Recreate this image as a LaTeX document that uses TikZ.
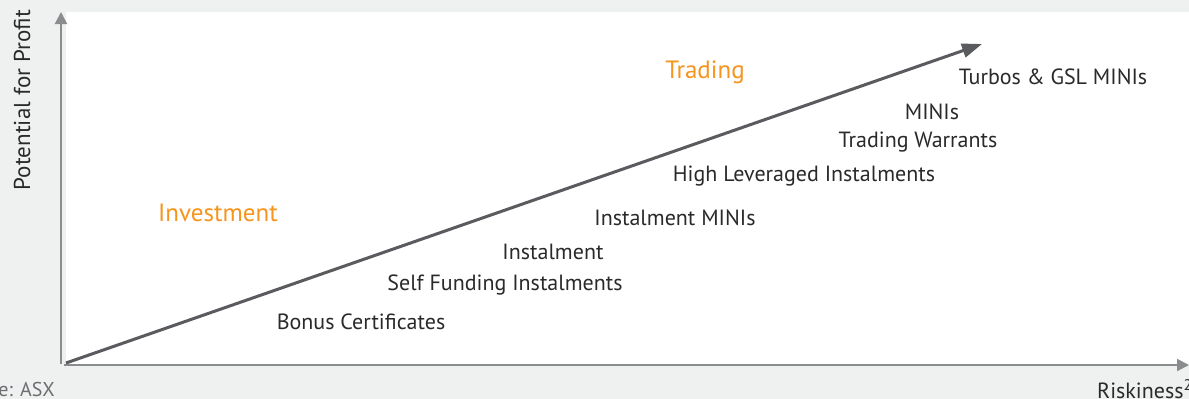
\documentclass[tikz,border=0pt]{standalone}
\usepackage{fontspec}
\setmainfont{PT Sans}
\usetikzlibrary{arrows.meta}
\definecolor{bggrey}{HTML}{EFF0F0}
\definecolor{axisgrey}{HTML}{8A8C8E}
\definecolor{linegrey}{HTML}{5A5B5E}
\definecolor{txt}{HTML}{2A2A2A}
\definecolor{srcgrey}{HTML}{6D6E71}
\definecolor{orng}{HTML}{F7941D}
\begin{document}
\begin{tikzpicture}[x=1pt,y=-1pt,
  lbl/.style={font=\fontsize{22}{25}\selectfont, text=txt, inner sep=0pt},
  cat/.style={font=\fontsize{25}{28}\selectfont, text=orng, inner sep=0pt},
  axis/.style={draw=axisgrey, line width=2pt, -{Triangle[length=12pt,width=12pt]}},
  trend/.style={draw=linegrey, line width=3pt, -{Triangle[length=20pt,width=14pt]}}]
\useasboundingbox (0,0) rectangle (1189,399);
\fill[bggrey] (0,0) rectangle (1189,399);
\fill[white] (66,12) rectangle (1189,364);
\coordinate (o) at (61,364);
\coordinate (ytip) at (61,12);
\coordinate (xo) at (64,365);
\coordinate (xtip) at (1189,365);
\coordinate (ds) at (66,363);
\coordinate (de) at (982,44);
\draw[axis] (o) -- (ytip);
\draw[axis] (xo) -- (xtip);
\draw[trend] (ds) -- (de);
\node[cat] (trading) at (705,72) {Trading};
\node[cat] (invest) at (218,213) {Investment};
\node[lbl] (turbos) at (1053,77) {Turbos \& GSL MINIs};
\node[lbl] (minis) at (932,112) {MINIs};
\node[lbl] (tw) at (918,142) {Trading Warrants};
\node[lbl] (hli) at (804,176) {High Leveraged Instalments};
\node[lbl] (imini) at (675,218) {Instalment MINIs};
\node[lbl] (inst) at (553,252) {Instalment};
\node[lbl] (sfi) at (505,285) {Self Funding Instalments};
\node[lbl] (bonus) at (361,322) {Bonus Certificates};
\node[lbl, font=\fontsize{23}{26}\selectfont, rotate=90] (ylab) at (22,100) {Potential for Profit};
\node[lbl, text=srcgrey, font=\fontsize{20}{23}\selectfont, anchor=east] (src) at (55,389) {e: ASX};
\node[lbl, anchor=west] (xlab) at (1097,389) {Riskiness\textsuperscript{2}};
\end{tikzpicture}
\end{document}
